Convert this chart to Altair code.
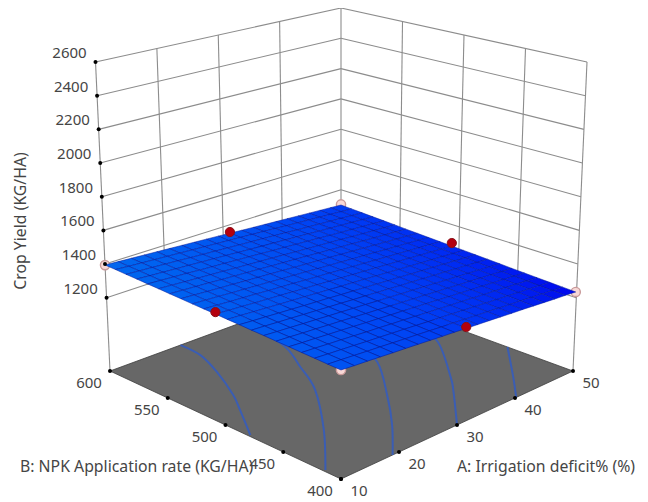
import altair as alt
import pandas as pd

# ---- axis ranges and tick values
A_RANGE = (10, 50)
B_RANGE = (400, 600)
Z_RANGE = (765, 2600)
A_TICKS = [10, 20, 30, 40, 50]
B_TICKS = [400, 450, 500, 550, 600]
Z_TICKS = [1200, 1400, 1600, 1800, 2000, 2200, 2400, 2600]

# ---- response surface: rows B = 400..600 step 10, columns A = 10..50 step 2
A_GRID = [10, 12, 14, 16, 18, 20, 22, 24, 26, 28, 30, 32, 34, 36, 38, 40, 42, 44, 46, 48, 50]
B_GRID = [400, 410, 420, 430, 440, 450, 460, 470, 480, 490, 500, 510, 520, 530, 540, 550, 560, 570, 580, 590, 600]
Z_ROWS = [
    [1373, 1367, 1362, 1356, 1350, 1345, 1339, 1333, 1327, 1322, 1316, 1310, 1305, 1299, 1293, 1288, 1282, 1276, 1270, 1265, 1259],
    [1375, 1370, 1364, 1358, 1353, 1347, 1341, 1336, 1330, 1324, 1319, 1313, 1307, 1302, 1296, 1290, 1285, 1279, 1273, 1268, 1262],
    [1378, 1372, 1367, 1361, 1355, 1350, 1344, 1339, 1333, 1327, 1322, 1316, 1310, 1305, 1299, 1293, 1288, 1282, 1277, 1271, 1265],
    [1380, 1375, 1369, 1364, 1358, 1352, 1347, 1341, 1336, 1330, 1324, 1319, 1313, 1308, 1302, 1296, 1291, 1285, 1280, 1274, 1268],
    [1383, 1377, 1372, 1366, 1361, 1355, 1349, 1344, 1338, 1333, 1327, 1322, 1316, 1310, 1305, 1299, 1294, 1288, 1283, 1277, 1271],
    [1385, 1380, 1374, 1369, 1363, 1358, 1352, 1346, 1341, 1335, 1330, 1324, 1319, 1313, 1308, 1302, 1297, 1291, 1286, 1280, 1274],
    [1388, 1382, 1377, 1371, 1366, 1360, 1355, 1349, 1344, 1338, 1333, 1327, 1322, 1316, 1311, 1305, 1300, 1294, 1289, 1283, 1278],
    [1390, 1385, 1379, 1374, 1368, 1363, 1357, 1352, 1346, 1341, 1335, 1330, 1324, 1319, 1314, 1308, 1303, 1297, 1292, 1286, 1281],
    [1393, 1387, 1382, 1376, 1371, 1365, 1360, 1355, 1349, 1344, 1338, 1333, 1327, 1322, 1316, 1311, 1306, 1300, 1295, 1289, 1284],
    [1395, 1390, 1384, 1379, 1373, 1368, 1363, 1357, 1352, 1346, 1341, 1336, 1330, 1325, 1319, 1314, 1308, 1303, 1298, 1292, 1287],
    [1398, 1392, 1387, 1381, 1376, 1371, 1365, 1360, 1355, 1349, 1344, 1338, 1333, 1328, 1322, 1317, 1312, 1306, 1301, 1295, 1290],
    [1400, 1395, 1389, 1384, 1379, 1373, 1368, 1363, 1357, 1352, 1347, 1341, 1336, 1331, 1325, 1320, 1315, 1309, 1304, 1299, 1293],
    [1402, 1397, 1392, 1386, 1381, 1376, 1371, 1365, 1360, 1355, 1349, 1344, 1339, 1333, 1328, 1323, 1317, 1312, 1307, 1302, 1296],
    [1405, 1400, 1394, 1389, 1384, 1378, 1373, 1368, 1363, 1357, 1352, 1347, 1342, 1336, 1331, 1326, 1320, 1315, 1310, 1305, 1299],
    [1407, 1402, 1397, 1392, 1386, 1381, 1376, 1371, 1365, 1360, 1355, 1350, 1344, 1339, 1334, 1329, 1323, 1318, 1313, 1308, 1302],
    [1410, 1405, 1399, 1394, 1389, 1384, 1378, 1373, 1368, 1363, 1358, 1352, 1347, 1342, 1337, 1332, 1326, 1321, 1316, 1311, 1306],
    [1412, 1407, 1402, 1397, 1391, 1386, 1381, 1376, 1371, 1366, 1360, 1355, 1350, 1345, 1340, 1334, 1329, 1324, 1319, 1314, 1309],
    [1415, 1409, 1404, 1399, 1394, 1389, 1384, 1379, 1373, 1368, 1363, 1358, 1353, 1348, 1343, 1337, 1332, 1327, 1322, 1317, 1312],
    [1417, 1412, 1407, 1402, 1397, 1391, 1386, 1381, 1376, 1371, 1366, 1361, 1356, 1351, 1345, 1340, 1335, 1330, 1325, 1320, 1315],
    [1420, 1414, 1409, 1404, 1399, 1394, 1389, 1384, 1379, 1374, 1369, 1364, 1359, 1354, 1348, 1343, 1338, 1333, 1328, 1323, 1318],
    [1422, 1417, 1412, 1407, 1402, 1397, 1392, 1387, 1382, 1377, 1372, 1366, 1361, 1356, 1351, 1346, 1341, 1336, 1331, 1326, 1321],
]

# ---- design points
RED_A = [10, 30, 50, 30]
RED_B = [500, 400, 500, 600]
RED_Z = [1409, 1324, 1309, 1379]
PINK_A = [10, 50, 50, 10]
PINK_B = [600, 400, 600, 400]
PINK_Z = [1421, 1259, 1325, 1373]

# ---- contour lines on the floor: (A, B) pairs
CONTOUR_1_A = [22.2, 21.9, 19.9, 16.7, 14.3, 10.3]
CONTOUR_1_B = [600, 581, 557, 527, 509, 480]
CONTOUR_2_A = [33.0, 31.6, 28.5, 25.0, 17.8, 10.3]
CONTOUR_2_B = [600, 558, 528, 497.5, 454, 415]
CONTOUR_3_A = [38.0, 36.2, 29.8, 24.6, 18.9]
CONTOUR_3_B = [530, 500, 459, 429, 400]
CONTOUR_4_A = [47.0, 45.5, 39.1, 36.2, 30.0]
CONTOUR_4_B = [520, 494, 451, 434, 400]
CONTOUR_5_A = [50.0, 44.2, 40.2]
CONTOUR_5_B = [456.5, 422.6, 400]

# ---- text
Z_TITLE = "Crop Yield (KG/HA)"
B_TITLE = "B: NPK Application rate (KG/HA)"
A_TITLE = "A: Irrigation deficit% (%)"

# ---- view of the box: corners of floor and ceiling as seen in the page
FLOOR = {"front": (341, 479), "right": (573, 371), "left": (110, 371), "back": (341, 286)}
CEIL = {"front": (341, 133), "right": (587, 62), "left": (95.5, 62), "back": (341, 8)}
# camera used for the surface and its points
F, D, SIN_E, COS_E, H, Y0, CX = 1826, 10.85, 0.3345, 0.9424, 0.98, 221.2, 341
FONT = "Noto Sans"
TEXT = "#454545"


def box(a, b, z):
    u = (a - A_RANGE[0]) / (A_RANGE[1] - A_RANGE[0])
    v = (b - B_RANGE[0]) / (B_RANGE[1] - B_RANGE[0])
    t = (z - Z_RANGE[0]) / (Z_RANGE[1] - Z_RANGE[0])
    out = []
    for k in (0, 1):
        fl = (1 - u) * (1 - v) * FLOOR["front"][k] + u * (1 - v) * FLOOR["right"][k] \
            + (1 - u) * v * FLOOR["left"][k] + u * v * FLOOR["back"][k]
        ce = (1 - u) * (1 - v) * CEIL["front"][k] + u * (1 - v) * CEIL["right"][k] \
            + (1 - u) * v * CEIL["left"][k] + u * v * CEIL["back"][k]
        out.append(fl + (ce - fl) * t)
    return out


def camera(a_val, b_val, z):
    a = (a_val - 30) / 20
    b = (b_val - 500) / 100
    c = (z - (Z_RANGE[0] + Z_RANGE[1]) / 2) / ((Z_RANGE[1] - Z_RANGE[0]) / 2)
    xc = (a - b) / 2 ** 0.5
    d = (a + b) / 2 ** 0.5
    yc = H * c * COS_E + d * SIN_E
    zc = D + d * COS_E - H * c * SIN_E
    return CX + F * xc / zc, Y0 - F * yc / zc


X_SCALE = alt.Scale(domain=[8, 640], range=[0, 632])
Y_SCALE = alt.Scale(domain=[8, 502], range=[0, 494])
X = alt.X("x:Q", scale=X_SCALE, axis=None)
Y = alt.Y("y:Q", scale=Y_SCALE, axis=None)
PROJ = dict(type="identity", scale=1, translate=[0, 0])


def poly(points, **props):
    # points are page positions; the plot origin lies 8 px in
    ring = [[p[0] - 8, p[1] - 8] for p in points]
    ring.append(ring[0])
    return {"type": "Feature", "properties": props,
            "geometry": {"type": "Polygon", "coordinates": [ring]}}


# floor
floor_feature = poly([box(A_RANGE[0], B_RANGE[0], Z_RANGE[0]), box(A_RANGE[1], B_RANGE[0], Z_RANGE[0]),
                      box(A_RANGE[1], B_RANGE[1], Z_RANGE[0]), box(A_RANGE[0], B_RANGE[1], Z_RANGE[0])])
floor_layer = alt.Chart(alt.InlineData(values=[floor_feature])).mark_geoshape(
    fill="#676767", stroke="#3c3c3c", strokeWidth=0.8).project(**PROJ)

# surface cells, far ones first
cells = []
for j in range(len(B_GRID) - 2, -1, -1):
    for i in range(len(A_GRID) - 2, -1, -1):
        zs = [Z_ROWS[j][i], Z_ROWS[j][i + 1], Z_ROWS[j + 1][i + 1], Z_ROWS[j + 1][i]]
        pts = [camera(A_GRID[i], B_GRID[j], zs[0]), camera(A_GRID[i + 1], B_GRID[j], zs[1]),
               camera(A_GRID[i + 1], B_GRID[j + 1], zs[2]), camera(A_GRID[i], B_GRID[j + 1], zs[3])]
        cells.append(poly(pts, z=sum(zs) / 4))
surface_layer = alt.Chart(alt.InlineData(values=cells)).mark_geoshape(
    stroke="#02179c", strokeWidth=0.7, strokeOpacity=0.75
).encode(
    color=alt.Color("properties.z:Q", legend=None,
                    scale=alt.Scale(domain=[1259, 1422], range=["#0000ee", "#0a68ee"]))
).project(**PROJ)

# walls
rows = []


def segment(name, p, q, kind):
    for i, (a, b, z) in enumerate((p, q)):
        x, y = box(a, b, z)
        rows.append({"g": name, "i": i, "x": x, "y": y, "kind": kind})


A0, A1 = A_RANGE
B0, B1 = B_RANGE
Z0, Z1 = Z_RANGE
for z in Z_TICKS:
    segment(f"zl{z}", (A0, B1, z), (A1, B1, z), "grid")
    segment(f"zr{z}", (A1, B1, z), (A1, B0, z), "grid")
for a in A_TICKS[1:-1]:
    segment(f"a{a}", (a, B1, Z_TICKS[0]), (a, B1, Z1), "grid")
for b in B_TICKS[1:-1]:
    segment(f"b{b}", (A1, b, Z_TICKS[0]), (A1, b, Z1), "grid")
segment("vl", (A0, B1, Z0), (A0, B1, Z1), "grid")
segment("vr", (A1, B0, Z0), (A1, B0, Z1), "grid")
segment("vb", (A1, B1, Z_TICKS[0]), (A1, B1, Z1), "grid")
wall_layer = alt.Chart(pd.DataFrame(rows)).mark_line(color="#8c8c8c", strokeWidth=1.1).encode(
    x=X, y=Y, detail="g:N", order="i:Q")

# contours
contour_rows = []
for n, (ca, cb) in enumerate([(CONTOUR_1_A, CONTOUR_1_B), (CONTOUR_2_A, CONTOUR_2_B), (CONTOUR_3_A, CONTOUR_3_B),
                              (CONTOUR_4_A, CONTOUR_4_B), (CONTOUR_5_A, CONTOUR_5_B)]):
    for i, (a, b) in enumerate(zip(ca, cb)):
        x, y = box(a, b, Z0)
        contour_rows.append({"g": n, "i": i, "x": x, "y": y})
contour_layer = alt.Chart(pd.DataFrame(contour_rows)).mark_line(
    color="#3a5db4", strokeWidth=2, interpolate="cardinal").encode(x=X, y=Y, detail="g:N", order="i:Q")

# design points
pink_xy = [camera(a, b, z) for a, b, z in zip(PINK_A, PINK_B, PINK_Z)]
pink_layer = alt.Chart(pd.DataFrame(pink_xy, columns=["x", "y"])).mark_circle(
    size=85, fill="#f8d8d6", stroke="#c99a9a", strokeWidth=1.4, opacity=1).encode(x=X, y=Y)
red_xy = [camera(a, b, z) for a, b, z in zip(RED_A, RED_B, RED_Z)]
red_layer = alt.Chart(pd.DataFrame(red_xy, columns=["x", "y"])).mark_circle(
    size=85, fill="#b4000e", stroke="#8a1018", strokeWidth=1, opacity=1).encode(x=X, y=Y)

# ticks and tick labels
z_pos = [box(A0, B1, z) for z in Z_TICKS]
a_pos = [box(a, B0, Z0) for a in A_TICKS]
b_pos = [box(A0, b, Z0) for b in B_TICKS]
tick_df = pd.DataFrame(z_pos + a_pos + b_pos, columns=["x", "y"])
tick_layer = alt.Chart(tick_df).mark_circle(size=16, color="#000000", opacity=1).encode(x=X, y=Y)


def labels(pos, vals, dx, dy):
    df = pd.DataFrame(pos, columns=["x", "y"])
    df["t"] = [str(v) for v in vals]
    return alt.Chart(df).mark_text(font=FONT, fontSize=15, color=TEXT, dx=dx, dy=dy,
                                   align="center", baseline="middle").encode(x=X, y=Y, text="t:N")


z_labels = labels(z_pos, Z_TICKS, -26, -9)
a_labels = labels(a_pos, A_TICKS, 18, 12)
b_labels = labels(b_pos, B_TICKS, -21, 12)

# axis titles
title_z = alt.Chart(pd.DataFrame({"x": [21], "y": [221], "t": [Z_TITLE]})).mark_text(
    font=FONT, fontSize=15.8, color=TEXT, angle=270, align="center", baseline="middle").encode(x=X, y=Y, text="t:N")
title_b = alt.Chart(pd.DataFrame({"x": [20], "y": [467], "t": [B_TITLE]})).mark_text(
    font=FONT, fontSize=15.8, color=TEXT, align="left", baseline="middle").encode(x=X, y=Y, text="t:N")
title_a = alt.Chart(pd.DataFrame({"x": [457], "y": [467], "t": [A_TITLE]})).mark_text(
    font=FONT, fontSize=15.8, color=TEXT, align="left", baseline="middle").encode(x=X, y=Y, text="t:N")

chart = alt.layer(
    floor_layer, wall_layer, contour_layer, pink_layer, surface_layer, red_layer, tick_layer,
    z_labels, a_labels, b_labels, title_z, title_b, title_a
).properties(
    width=632, height=494, padding=0, background="white",
    autosize=alt.AutoSizeParams(type="none")
).configure_view(stroke=None)

chart.save("out.html", embed_options={"renderer": "svg", "actions": False})
